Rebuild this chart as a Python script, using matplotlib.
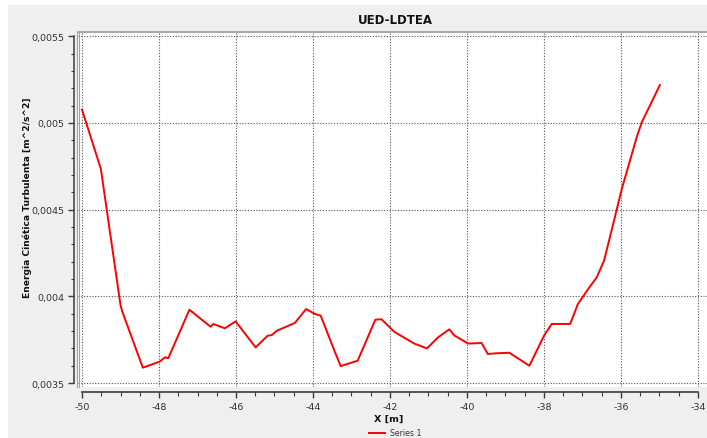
import matplotlib
matplotlib.use("Agg")
import matplotlib.pyplot as plt
from matplotlib.ticker import MultipleLocator, FixedLocator, FixedFormatter
from matplotlib.lines import Line2D
from matplotlib.patches import Rectangle

# Turbulent kinetic energy profile along X
x_m = [-50.00, -49.51, -49.00, -48.95, -48.42, -47.99, -47.84, -47.76, -47.21,
       -46.66, -46.59, -46.29, -46.01, -45.49, -45.18, -45.07, -44.94, -44.47,
       -44.18, -43.95, -43.80, -43.45, -43.28, -42.84, -42.38, -42.22, -41.89,
       -41.37, -41.04, -40.75, -40.46, -40.33, -39.97, -39.62, -39.46, -39.23,
       -38.90, -38.62, -38.38, -38.00, -37.80, -37.32, -37.12, -36.85, -36.63,
       -36.44, -36.30, -36.16, -35.98, -35.58, -35.46, -34.99]
tke = [0.005077, 0.004735, 0.003950, 0.003910, 0.003589, 0.003623, 0.003649,
       0.003643, 0.003923, 0.003825, 0.003841, 0.003816, 0.003856, 0.003706,
       0.003773, 0.003777, 0.003802, 0.003847, 0.003927, 0.003899, 0.003889,
       0.003690, 0.003598, 0.003629, 0.003866, 0.003868, 0.003796, 0.003728,
       0.003700, 0.003764, 0.003810, 0.003775, 0.003728, 0.003731, 0.003668,
       0.003672, 0.003675, 0.003635, 0.003600, 0.003773, 0.003841, 0.003841,
       0.003956, 0.004043, 0.004110, 0.004206, 0.004331, 0.004456, 0.004619,
       0.004927, 0.005004, 0.005219]

title = "UED-LDTEA"
x_label = "X [m]"
y_label = "Energia Cinética Turbulenta [m^2/s^2]"
series_name = "Series 1"
x_ticks = [-50, -48, -46, -44, -42, -40, -38, -36, -34]
x_tick_labels = ["-50", "-48", "-46", "-44", "-42", "-40", "-38", "-36", "-34"]
y_ticks = [0.0035, 0.004, 0.0045, 0.005, 0.0055]
y_tick_labels = ["0,0035", "0,004", "0,0045", "0,005", "0,0055"]

W, H = 707, 439
fig = plt.figure(figsize=(W / 100, H / 100), dpi=100, facecolor="white")

# grey panel behind the chart
fig.patches.append(Rectangle((8 / W, 0), 1 - 8 / W, (H - 6) / H,
                             transform=fig.transFigure, facecolor="#efefef",
                             edgecolor="none", zorder=-10))

ax = fig.add_axes([78 / W, (H - 388) / H, 629 / W, 355 / H])
ax.set_facecolor("white")

ax.plot(x_m, tke, color="#ff0000", lw=1.4, zorder=3)

ax.set_xlim(-50.104, -33.766)
ax.set_ylim(0.0034775, 0.0055248)

ax.xaxis.set_major_locator(FixedLocator(x_ticks))
ax.xaxis.set_major_formatter(FixedFormatter(x_tick_labels))
ax.xaxis.set_minor_locator(MultipleLocator(0.5))
ax.yaxis.set_major_locator(FixedLocator(y_ticks))
ax.yaxis.set_major_formatter(FixedFormatter(y_tick_labels))
ax.yaxis.set_minor_locator(MultipleLocator(0.0001))

ax.grid(True, which="major", color="#555555", lw=0.8, ls=(0, (1, 1.5)))

axis_col = "#3c3c3c"
for s in ("right", "bottom", "left", "top"):
    ax.spines[s].set_visible(False)
ax.spines["left"].set_visible(True)
ax.spines["left"].set_position(("outward", 2.9))
ax.spines["left"].set_bounds(0.0035, 0.0055)
ax.spines["left"].set_color(axis_col)
ax.spines["left"].set_linewidth(1.1)
ax.spines["bottom"].set_visible(True)
ax.spines["bottom"].set_position(("outward", 3.4))
ax.spines["bottom"].set_bounds(-50, -34)
ax.spines["bottom"].set_color(axis_col)
ax.spines["bottom"].set_linewidth(1.2)

ax.tick_params(axis="y", which="major", length=4.2, width=1.0, color=axis_col,
               labelsize=6.8, labelcolor="#333333", pad=2.5)
ax.tick_params(axis="y", which="minor", length=2.2, width=0.8, color=axis_col)
ax.tick_params(axis="x", which="major", length=4.6, width=1.0, color=axis_col,
               labelsize=6.8, labelcolor="#333333", pad=2.5)
ax.tick_params(axis="x", which="minor", length=2.8, width=0.8, color=axis_col)

# plot frame: grey line on top, double grey line on the left
frame_col = "#a0a0a0"
ax.add_line(Line2D([0, 1.05], [1, 1], transform=ax.transAxes, color=frame_col,
                   lw=1.3, clip_on=False, zorder=4))
for dx in (-1.0, 1.0):
    xa = dx / 629
    ax.add_line(Line2D([xa, xa], [0, 1], transform=ax.transAxes,
                       color=frame_col, lw=0.8, clip_on=False, zorder=4))

fig.text(395 / W, 1 - 21 / H, title, ha="center", va="center",
         fontsize=8.5, fontweight="bold", color="#111111")
fig.text(389 / W, 1 - 419 / H, x_label, ha="center", va="center",
         fontsize=6.8, fontweight="bold", color="#111111")
fig.text(27 / W, 1 - 198 / H, y_label, ha="center", va="center",
         rotation=90, fontsize=6.6, fontweight="bold", color="#111111")

# legend entry at the bottom
fig.add_artist(Line2D([369 / W, 385 / W], [1 - 434 / H, 1 - 434 / H],
                      transform=fig.transFigure, color="#ff0000", lw=1.4))
fig.text(390 / W, 1 - 433.5 / H, series_name, ha="left", va="center",
         fontsize=5.6, color="#333333")

fig.savefig("out.png", dpi=100, facecolor=fig.get_facecolor())
